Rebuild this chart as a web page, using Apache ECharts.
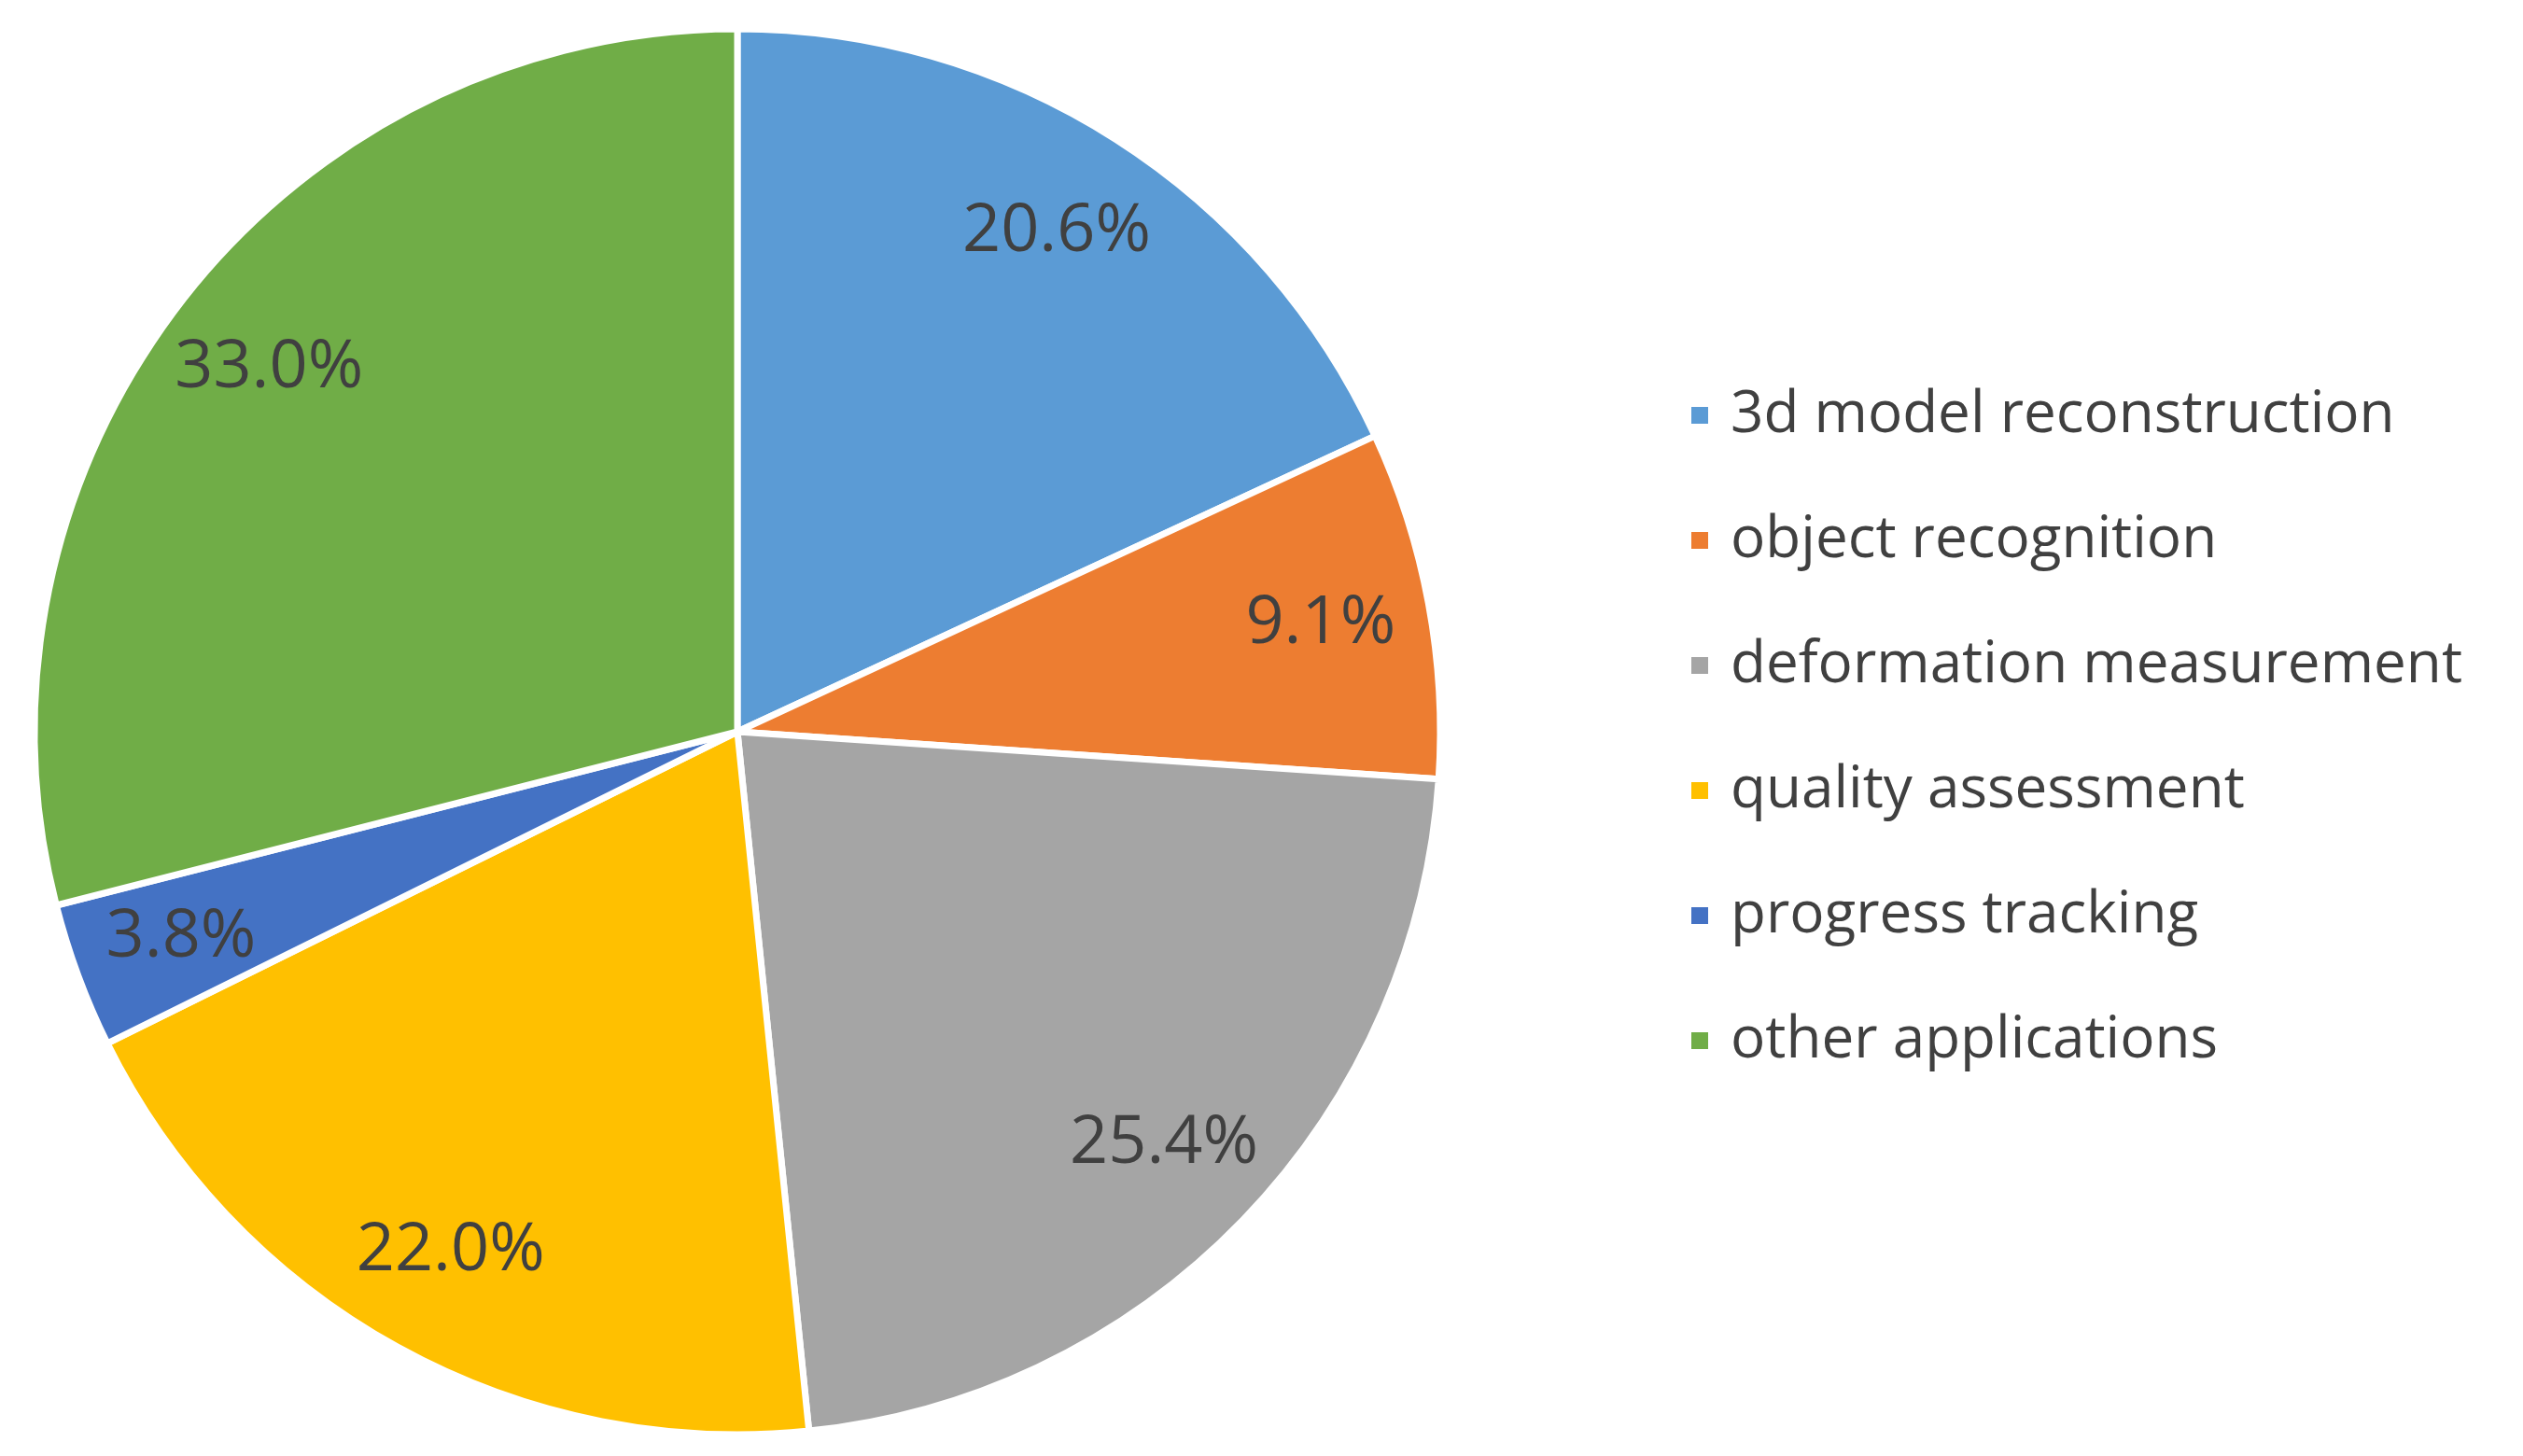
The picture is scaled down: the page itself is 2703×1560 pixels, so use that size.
<!DOCTYPE html>
<html>
<head>
<meta charset="utf-8">
<script src="https://cdn.jsdelivr.net/npm/echarts@6/dist/echarts.min.js"></script>
<style>html,body{margin:0;padding:0;background:#fff}#chart{width:2703px;height:1560px}</style>
</head>
<body>
<div id="chart"></div>
<script>
var categories = ['3d model reconstruction', 'object recognition', 'deformation measurement', 'quality assessment', 'progress tracking', 'other applications'];
var shares = [20.6, 9.1, 25.4, 22.0, 3.8, 33.0];
var colors = ['#5B9BD5', '#ED7D31', '#A5A5A5', '#FFC000', '#4472C4', '#70AD47'];

var chart = echarts.init(document.getElementById('chart'));

var pieData = categories.map(function (c, i) {
    return {name: c, value: shares[i], itemStyle: {color: colors[i]}};
});

chart.setOption({
    animation: false,
    legend: {
        orient: 'vertical',
        left: 1805,
        top: 'middle',
        itemWidth: 20,
        itemHeight: 20,
        itemGap: 72,
        icon: 'rect',
        textStyle: {fontSize: 62, color: '#404040', fontFamily: 'Open Sans', padding: [0, 0, 0, 18]},
        data: categories
    },
    series: [
        {
            // visible slices
            type: 'pie',
            center: [790, 784],
            radius: [0, 753],
            startAngle: 90,
            clockwise: true,
            label: {show: false},
            labelLine: {show: false},
            itemStyle: {borderColor: '#fff', borderWidth: 7},
            data: pieData
        },
        {
            // transparent ring that only carries the labels
            type: 'pie',
            silent: true,
            center: [790, 784],
            radius: [512, 753],
            startAngle: 90,
            clockwise: true,
            legendHoverLink: false,
            itemStyle: {color: 'transparent'},
            label: {
                show: true,
                position: 'inside',
                formatter: function (p) { return p.value.toFixed(1) + '%'; },
                fontSize: 72,
                color: '#404040',
                fontFamily: 'Open Sans'
            },
            data: shares.map(function (v, i) { return {name: categories[i] + ' ', value: v}; })
        }
    ]
});
</script>
</body>
</html>
